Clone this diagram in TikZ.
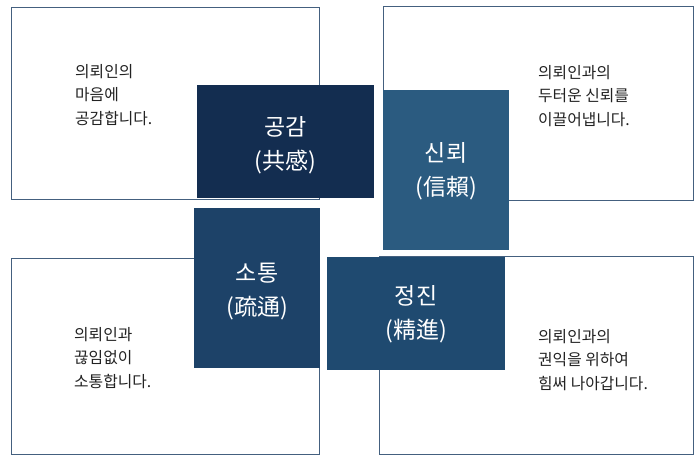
\documentclass[tikz,border=0pt]{standalone}
\usepackage{fontspec}
\setmainfont{Noto Sans CJK KR}
\definecolor{edge}{HTML}{44607F}
\definecolor{txt}{HTML}{222222}
\definecolor{cA}{HTML}{132D50}
\definecolor{cB}{HTML}{2B5B80}
\definecolor{cC}{HTML}{1D4268}
\definecolor{cD}{HTML}{1F4A70}
\tikzset{
  panel/.style={draw=edge, line width=1pt, fill=white, inner sep=0pt, outer sep=0pt, anchor=north west},
  keybox/.style={inner sep=0pt, outer sep=0pt, anchor=north west, draw=none},
  keytext/.style={text=white, align=center, font=\fontsize{23}{34}\selectfont},
  desc/.style={text=txt, align=left, anchor=west, inner sep=0pt, font=\fontsize{15.8}{23.5}\selectfont}
}
\begin{document}
\begin{tikzpicture}[x=1pt,y=-1pt]
\useasboundingbox (0,0) rectangle (700,463);
% white panels
\node[panel, minimum width=308, minimum height=192] (tl) at (11,7) {};
\node[panel, minimum width=310, minimum height=194] (tr) at (383,6) {};
\node[panel, minimum width=308, minimum height=196] (bl) at (11,258) {};
\node[panel, minimum width=314, minimum height=198] (br) at (379,256) {};
% key boxes
\node[keybox, fill=cA, minimum width=177, minimum height=113] (ka) at (197,85) {};
\node[keybox, fill=cB, minimum width=126, minimum height=160] (kb) at (383,90) {};
\node[keybox, fill=cC, minimum width=126, minimum height=160] (kc) at (194,208) {};
\node[keybox, fill=cD, minimum width=178, minimum height=113] (kd) at (327,257) {};
% key texts
\node[keytext] (ta) at ([yshift=-4]ka.center) {공감\\(共感)};
\node[keytext] (tb) at ([yshift=-1]kb.center) {신뢰\\(信賴)};
\node[keytext] (tc) at ([yshift=-4]kc.center) {소통\\(疏通)};
\node[keytext] (td) at ([yshift=-1]kd.center) {정진\\(精進)};
% descriptions
\node[desc] (da) at (75,95) {의뢰인의\\마음에\\공감합니다.};
\node[desc] (db) at (538,96) {의뢰인과의\\두터운 신뢰를\\이끌어냅니다.};
\node[desc] (dc) at (74,358) {의뢰인과\\끊임없이\\소통합니다.};
\node[desc] (dd) at (538,360) {의뢰인과의\\권익을 위하여\\힘써 나아갑니다.};
\end{tikzpicture}
\end{document}
